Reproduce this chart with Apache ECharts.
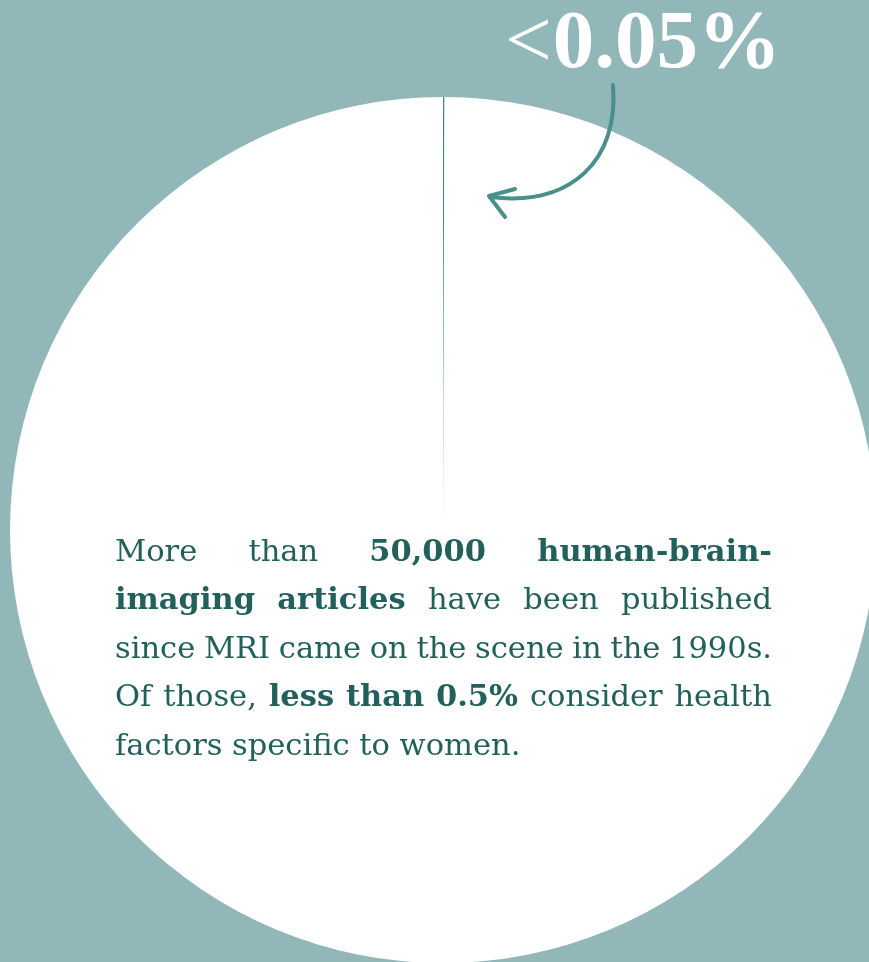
<!DOCTYPE html>
<html>
<head>
<meta charset="utf-8">
<script src="https://cdn.jsdelivr.net/npm/echarts@6/dist/echarts.min.js"></script>
<style>
html,body{margin:0;padding:0;background:#91b7b8;}
#chart{width:869px;height:962px;}
</style>
</head>
<body>
<div id="chart"></div>
<script>
// ---- data ----
var categories = ['Women-specific factors', 'All other articles'];
var shareValues = [0.05, 99.95];
var headlineLabel = '<0.05%';
var paragraphLines = [
  [['More', 0], ['than', 0], ['50,000', 1], ['human-brain-', 1]],
  [['imaging', 1], ['articles', 1], ['have', 0], ['been', 0], ['published', 0]],
  [['since', 0], ['MRI', 0], ['came', 0], ['on', 0], ['the', 0], ['scene', 0], ['in', 0], ['the', 0], ['1990s.', 0]],
  [['Of', 0], ['those,', 0], ['less', 1], ['than', 1], ['0.5%', 1], ['consider', 0], ['health', 0]],
  [['factors', 0], ['specific', 0], ['to', 0], ['women.', 0]]
];

// ---- layout ----
var BG = '#91b7b8';
var TEXT = '#22605c';
var ACCENT = '#4b8f8d';
var FONT_FAMILY = '"DejaVu Serif", serif';
var FS = 30.5;
var LEFT = 115, RIGHT = 772, BASE0 = 563, LINE_H = 48.5;

var cv = document.createElement('canvas').getContext('2d');
function measure(t, bold, fs, fam) {
  cv.font = (bold ? 'bold ' : '') + fs + 'px ' + fam;
  return cv.measureText(t).width;
}

var graphics = [];
paragraphLines.forEach(function (line, li) {
  var widths = line.map(function (w) { return measure(w[0], w[1], FS, FONT_FAMILY); });
  var total = widths.reduce(function (a, b) { return a + b; }, 0);
  var spaceW = measure(' ', 0, FS, FONT_FAMILY);
  var isLast = li === paragraphLines.length - 1;
  var gap = isLast ? spaceW : (RIGHT - LEFT - total) / (line.length - 1);
  var x = LEFT;
  var yMid = BASE0 + li * LINE_H - FS * 0.34;
  line.forEach(function (w, wi) {
    graphics.push({
      type: 'text', silent: true, z: 10,
      style: {
        text: w[0], x: x, y: yMid,
        fontFamily: FONT_FAMILY, fontSize: FS, fontWeight: w[1] ? 'bold' : 'normal',
        fill: TEXT, align: 'left', verticalAlign: 'middle'
      }
    });
    x += widths[wi] + gap;
  });
});

// headline "<0.05%"
var HF = '"Liberation Serif", "Times New Roman", serif';
var HFS = 83;
var headNum = headlineLabel.slice(1);
var headRight = 781;
var numW = measure(headNum, 1, HFS, HF);
var headY = 71 - HFS * 0.31;
graphics.push({
  type: 'text', silent: true, z: 10,
  style: { text: headNum, x: headRight, y: headY, fontFamily: HF, fontSize: HFS, fontWeight: 'bold',
           fill: '#ffffff', align: 'right', verticalAlign: 'middle' }
});
graphics.push({
  type: 'text', silent: true, z: 10,
  style: { text: headlineLabel.slice(0, 1), x: headRight - numW - 1, y: headY, fontFamily: HF, fontSize: HFS,
           fontWeight: 'normal', fill: '#ffffff', align: 'right', verticalAlign: 'middle' }
});

// curved arrow
graphics.push({
  type: 'bezierCurve', silent: true, z: 10,
  shape: { x1: 613, y1: 85, cpx1: 619, cpy1: 160, cpx2: 572, cpy2: 207, x2: 490, y2: 197 },
  style: { stroke: ACCENT, lineWidth: 4, fill: null, lineCap: 'round' }
});
graphics.push({
  type: 'polyline', silent: true, z: 10,
  shape: { points: [[515, 189], [489, 196], [505, 217]] },
  style: { stroke: ACCENT, lineWidth: 4, fill: null, lineCap: 'round', lineJoin: 'round' }
});

var chart = echarts.init(document.getElementById('chart'), null, { renderer: 'canvas' });
chart.setOption({
  backgroundColor: BG,
  animation: false,
  series: [{
    type: 'pie',
    silent: true,
    center: [443, 530],
    radius: [0, 433],
    startAngle: 90,
    clockwise: true,
    minAngle: 0,
    label: { show: false },
    labelLine: { show: false },
    emphasis: { disabled: true },
    itemStyle: { borderWidth: 0 },
    data: categories.map(function (c, i) {
      return { name: c, value: shareValues[i], itemStyle: { color: i === 0 ? '#3f8683' : '#ffffff' } };
    })
  }],
  graphic: graphics
});
</script>
</body>
</html>
